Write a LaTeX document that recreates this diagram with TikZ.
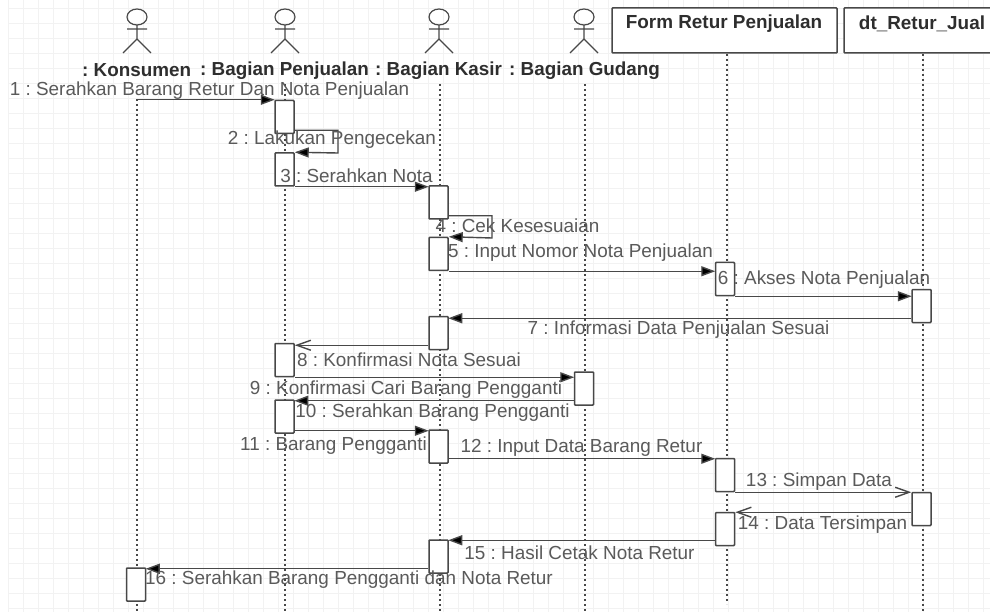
\documentclass[tikz,border=0pt]{standalone}
\usepackage{fontspec}
\setmainfont{Liberation Sans}
\frenchspacing
\usetikzlibrary{arrows.meta}
\definecolor{ink}{HTML}{484848}
\definecolor{msgtxt}{HTML}{5A5A5A}
\definecolor{headtxt}{HTML}{2E2E2E}
\definecolor{gridc}{HTML}{F2F2F2}
\tikzset{
  x=1pt,y=-1pt,
  activation/.style={draw=ink,line width=1.5pt,fill=white,minimum width=19pt,minimum height=33pt,inner sep=0pt,rounded corners=0.8pt},
  lifeline/.style={draw=ink,line width=2pt,dash pattern=on 2pt off 3pt},
  msg/.style={draw=ink,line width=1.4pt},
  filled/.style={msg,-{Triangle[length=14pt,width=10pt,fill=black]},shorten >=-0.5pt},
  openhead/.style={msg,-{Straight Barb[length=14pt,width=10pt]}},
  msglabel/.style={text=msgtxt,font=\fontsize{18.9}{20}\selectfont,inner sep=0pt,yshift=-1.5pt},
  headlabel/.style={text=headtxt,font=\bfseries\fontsize{18.85}{20}\selectfont,inner sep=0pt,yshift=-1.5pt},
  objbox/.style={draw=ink,line width=1.5pt,fill=white,rounded corners=0.8pt},
  objlabel/.style={text=headtxt,font=\bfseries\fontsize{18.9}{20}\selectfont,inner sep=0pt,yshift=-1.5pt},
  stick/.style={draw=ink,line width=1.2pt},
  pics/actor/.style={code={
    \draw[stick] (0,-8) ellipse (10pt and 8pt);
    \draw[stick] (0,0) -- (0,14) (-10,4) -- (10,4) (-14,28) -- (0,14) -- (14,28);
  }}
}
\begin{document}
\begin{tikzpicture}
\useasboundingbox (0,0) rectangle (990,612);
\fill[white] (0,0) rectangle (990,612);
% grid
\begin{scope}[gridc,line width=0.7pt]
\foreach \gx in {8,23,...,983} \draw (\gx,0) -- (\gx,612);
\foreach \gy in {8,23,...,608} \draw (8,\gy) -- (990,\gy);
\end{scope}
% lifelines
\coordinate (lk) at (137,99);
\coordinate (lp) at (285,84);
\coordinate (lc) at (440,84);
\coordinate (lg) at (585,84);
\coordinate (lf) at (726.5,54);
\coordinate (ld) at (923,54);
\coordinate (ek) at (137,612);
\coordinate (ep) at (285,612);
\coordinate (ec) at (440,612);
\coordinate (eg) at (585,612);
\coordinate (ef) at (726.5,604);
\coordinate (ed) at (923,612);
\draw[lifeline] (lk)--(ek);
\draw[lifeline] (lp)--(ep);
\draw[lifeline] (lc)--(ec);
\draw[lifeline] (lg)--(eg);
\draw[lifeline] (lf)--(ef);
\draw[lifeline] (ld)--(ed);
% actors
\pic at (137,25) {actor};
\pic at (285,25) {actor};
\pic at (439,25) {actor};
\pic at (584,25) {actor};
\node[headlabel,anchor=west] (nk) at (82,69) {: Konsumen};
\node[headlabel,anchor=west] (np) at (200,69) {: Bagian Penjualan};
\node[headlabel,anchor=west] (nc) at (375,69) {: Bagian Kasir};
\node[headlabel,anchor=west] (ng) at (509,69) {: Bagian Gudang};
% object boxes
\draw[objbox] (612,8) rectangle (837,53);
\draw[objbox] (844,8) rectangle (1000,53);
\node[objlabel] (of) at (724,22) {Form Retur Penjualan};
\node[objlabel] (od) at (922,22) {dt\_Retur\_Jual};
% activations
\node[activation] (a1) at (284.5,117) {};
\node[activation] (a2) at (284.5,169.5) {};
\node[activation] (a3) at (438.5,202.5) {};
\node[activation] (a4) at (438.5,254) {};
\node[activation] (a5) at (725,279) {};
\node[activation] (a6) at (921.5,306) {};
\node[activation] (a7) at (438.5,333) {};
\node[activation] (a8) at (284.5,360) {};
\node[activation] (a9) at (584,388.5) {};
\node[activation] (a10) at (284.5,416.5) {};
\node[activation] (a11) at (438.5,446.5) {};
\node[activation] (a12) at (725,475) {};
\node[activation] (a13) at (921.5,509) {};
\node[activation] (a14) at (725,529) {};
\node[activation] (a15) at (438.5,556.5) {};
\node[activation] (a16) at (136,584.5) {};
% message start points
\coordinate (s2) at ([yshift=4pt]a1.south east);
\coordinate (s4) at ([yshift=4pt]a3.south east);
\coordinate (s7) at ([yshift=5pt]a6.south west);
\coordinate (s8) at ([yshift=5pt]a7.south west);
\coordinate (s10) at ([yshift=5pt]a9.south west);
\coordinate (s11) at ([yshift=3pt]a10.south east);
\coordinate (s12) at ([yshift=5pt]a11.south east);
\coordinate (s14) at ([yshift=14pt]a13.south west);
\coordinate (s15) at ([yshift=6pt]a14.south west);
\coordinate (s16) at ([yshift=5pt]a15.south west);
% messages
\draw[filled] (lk |- a1.north west) -- (a1.north west);
\draw[msg,-{Triangle[length=14pt,width=10pt,fill=black]}] (s2) -| (338,153) -- (a2.north east);
\draw[filled] (a2.south east) -- (a3.west |- a2.south east);
\draw[msg,-{Triangle[length=14pt,width=10pt,fill=black]}] (s4) -| (492,238) -- (a4.north east);
\draw[filled] (a4.south east) -- (a5.west |- a4.south east);
\draw[filled] (a5.south east) -- (a6.west |- a5.south east);
\draw[filled] (s7) -- (a7.east |- s7);
\draw[openhead] (s8) -- (a8.east |- s8);
\draw[filled] (a8.south east) -- (a9.west |- a8.south east);
\draw[filled] (s10) -- (a10.east |- s10);
\draw[filled] (s11) -- (a11.west |- s11);
\draw[filled] (s12) -- (a12.west |- s12);
\draw[openhead] (a12.south east) -- (a13.west |- a12.south east);
\draw[openhead] (s14) -- (a14.east |- s14);
\draw[filled] (s15) -- (a15.east |- s15);
\draw[filled] (s16) -- (a16.east |- s16);
% labels
\node[msglabel] (m1) at (209.5,89) {1 : Serahkan Barang Retur Dan Nota Penjualan};
\node[msglabel] (m2) at (332,138) {2 : Lakukan Pengecekan};
\node[msglabel] (m3) at (356.5,174) {3 : Serahkan Nota};
\node[msglabel] (m4) at (517.5,224) {4 : Cek Kesesuaian};
\node[msglabel] (m5) at (580.5,251) {5 : Input Nomor Nota Penjualan};
\node[msglabel] (m6) at (824,278) {6 : Akses Nota Penjualan};
\node[msglabel] (m7) at (678.5,328) {7 : Informasi Data Penjualan Sesuai};
\node[msglabel] (m8) at (409,358) {8 : Konfirmasi Nota Sesuai};
\node[msglabel] (m9) at (406,388) {9 : Konfirmasi Cari Barang Pengganti};
\node[msglabel] (m10) at (432.5,411) {10 : Serahkan Barang Pengganti};
\node[msglabel] (m11) at (333.5,444) {11 : Barang Pengganti};
\node[msglabel] (m12) at (581.5,446) {12 : Input Data Barang Retur};
\node[msglabel] (m13) at (819,480) {13 : Simpan Data};
\node[msglabel] (m14) at (822.5,523) {14 : Data Tersimpan};
\node[msglabel] (m15) at (579.5,551) {15 : Hasil Cetak Nota Retur};
\node[msglabel] (m16) at (349,578) {16 : Serahkan Barang Pengganti dan Nota Retur};
\end{tikzpicture}
\end{document}
